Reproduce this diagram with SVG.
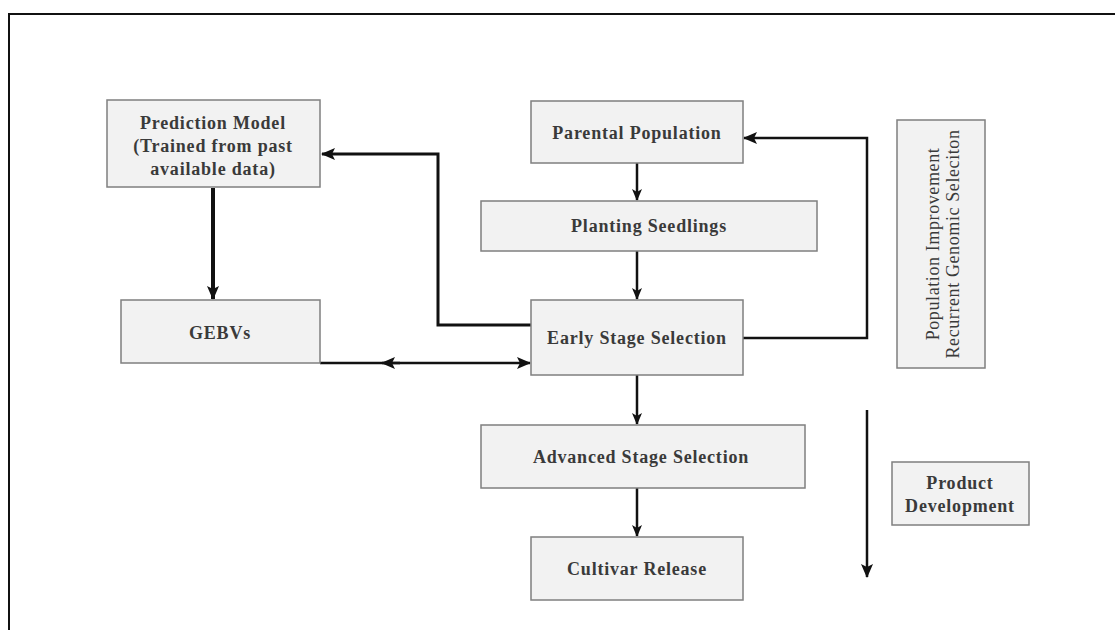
<svg xmlns="http://www.w3.org/2000/svg" width="1115" height="630" viewBox="0 0 1115 630">
<defs>
<style>
.box{fill:#f2f2f2;stroke:#7f7f7f;stroke-width:1.5}
.t{font-family:"Liberation Serif","DejaVu Serif",serif;font-weight:bold;font-size:18px;letter-spacing:0.8px;fill:#3a3a3a;text-anchor:middle}
.v{font-family:"Liberation Serif","DejaVu Serif",serif;font-size:18px;letter-spacing:0.6px;fill:#3a3a3a;text-anchor:middle}
.c{fill:none;stroke:#111;stroke-width:2.5}
.ct{fill:none;stroke:#111;stroke-width:3}
.ck{fill:none;stroke:#111;stroke-width:4}
</style>
<marker id="ah" viewBox="0 0 12 10" refX="11" refY="5" markerWidth="12" markerHeight="10" markerUnits="userSpaceOnUse" orient="auto">
<path d="M0,0 L12,5 L0,10 L3,5 Z" fill="#111"/>
</marker>
<marker id="ahb" viewBox="0 0 14 12" refX="13" refY="6" markerWidth="14" markerHeight="12" markerUnits="userSpaceOnUse" orient="auto">
<path d="M0,0 L14,6 L0,12 L3,6 Z" fill="#111"/>
</marker>
</defs>
<rect width="1115" height="630" fill="#fff"/>
<path d="M9,630 V14 H1115" fill="none" stroke="#111" stroke-width="2"/>

<g id="connectors">
<line class="c" x1="637" y1="163" x2="637" y2="200" marker-end="url(#ah)"/>
<line class="c" x1="637" y1="251" x2="637" y2="299" marker-end="url(#ah)"/>
<line class="c" x1="637" y1="375" x2="637" y2="424" marker-end="url(#ah)"/>
<line class="c" x1="637" y1="488" x2="637" y2="536" marker-end="url(#ah)"/>
<line class="ck" x1="213" y1="188" x2="213" y2="299" marker-end="url(#ahb)"/>
<polyline class="ct" points="531,325 438,325 438,154 322,154" marker-end="url(#ahb)"/>
<polyline class="c" points="743,338 867,338 867,138 744,138" marker-end="url(#ahb)"/>
<line class="c" x1="320" y1="363" x2="530" y2="363" marker-end="url(#ahb)"/>
<line class="c" x1="400" y1="363" x2="382" y2="363" marker-end="url(#ahb)"/>
<line class="c" x1="867" y1="410" x2="867" y2="577" marker-end="url(#ahb)"/>
</g>

<g id="prediction">
<rect class="box" x="107" y="100" width="213" height="87"/>
<text class="t" x="213" y="129">Prediction Model</text>
<text class="t" x="213" y="152">(Trained from past</text>
<text class="t" x="213" y="175">available data)</text>
</g>
<g id="parental">
<rect class="box" x="531" y="101" width="212" height="62"/>
<text class="t" x="637" y="139">Parental Population</text>
</g>
<g id="planting">
<rect class="box" x="481" y="201" width="336" height="50"/>
<text class="t" x="649" y="232">Planting Seedlings</text>
</g>
<g id="gebvs">
<rect class="box" x="121" y="300" width="199" height="63"/>
<text class="t" x="220" y="339">GEBVs</text>
</g>
<g id="early">
<rect class="box" x="531" y="300" width="212" height="75"/>
<text class="t" x="637" y="344">Early Stage Selection</text>
</g>
<g id="popimp">
<rect class="box" x="897" y="120" width="88" height="248"/>
<text class="v" transform="translate(939,244) rotate(-90)">Population Improvement</text>
<text class="v" transform="translate(959,244) rotate(-90)">Recurrent Genomic Seleciton</text>
</g>
<g id="advanced">
<rect class="box" x="481" y="425" width="324" height="63"/>
<text class="t" x="641" y="463">Advanced Stage Selection</text>
</g>
<g id="cultivar">
<rect class="box" x="531" y="537" width="212" height="63"/>
<text class="t" x="637" y="575">Cultivar Release</text>
</g>
<g id="product">
<rect class="box" x="892" y="462" width="137" height="63"/>
<text class="t" x="960" y="489">Product</text>
<text class="t" x="960" y="512">Development</text>
</g>
</svg>
